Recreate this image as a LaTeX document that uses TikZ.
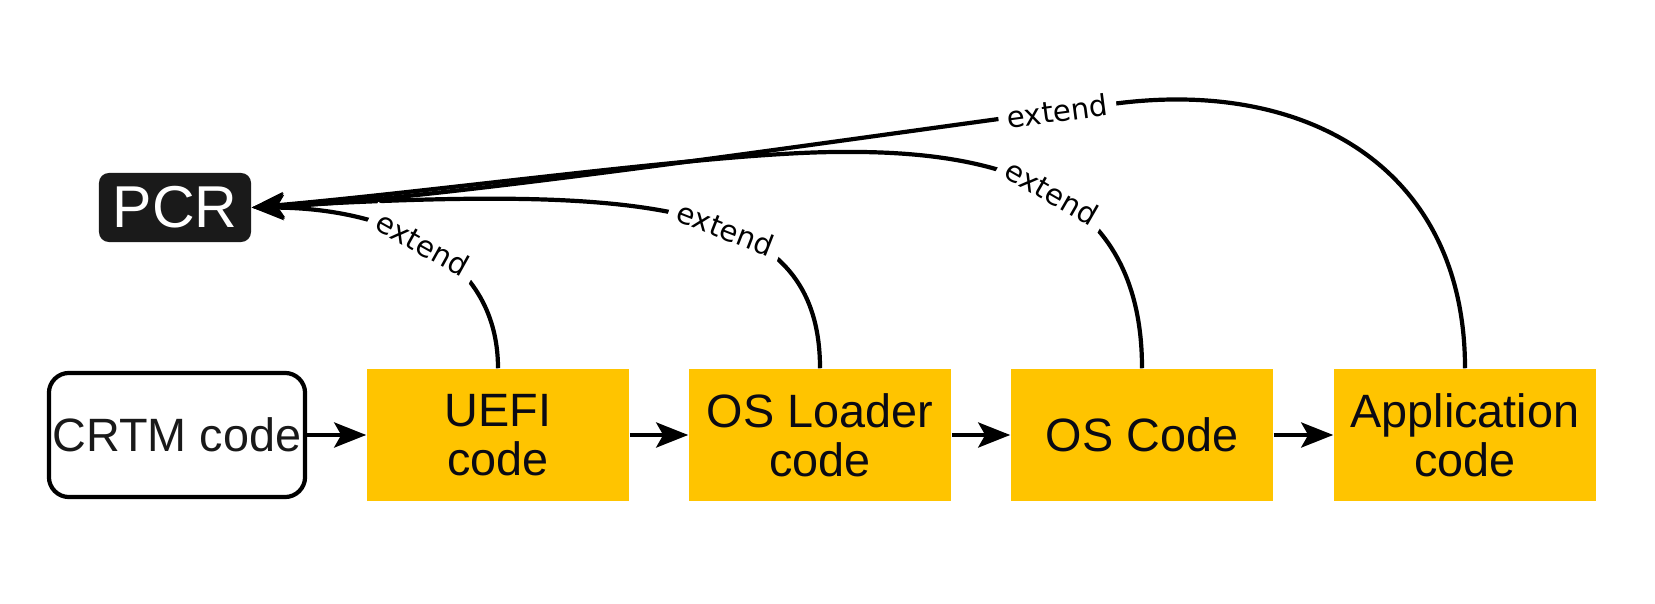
\documentclass[tikz,border=0pt]{standalone}
\usepackage{fontspec}
\setmainfont{Liberation Sans}
\newfontfamily\lblfont{DejaVu Sans}
\usetikzlibrary{arrows.meta}
\definecolor{boxyellow}{HTML}{FFC400}
\definecolor{pcrblack}{HTML}{1A1A1A}
\definecolor{boxtext}{HTML}{0A0A14}
\begin{document}
\begin{tikzpicture}[x=0.01cm, y=-0.01cm,
  stage/.style={fill=boxyellow, text=boxtext, minimum width=2.62cm, minimum height=1.32cm,
    align=center, inner sep=0pt, font=\fontsize{13.3}{13.9}\selectfont},
  startbox/.style={draw=black, line width=0.042cm, rounded corners=0.2cm, fill=white,
    minimum width=2.56cm, minimum height=1.24cm, inner sep=0pt, text=black!90,
    font=\fontsize{13.3}{13.9}\selectfont},
  pcrbox/.style={fill=pcrblack, rounded corners=0.1cm, text=white,
    minimum width=1.52cm, minimum height=0.69cm, inner sep=0pt,
    font=\fontsize{16.8}{18}\selectfont},
  conn/.style={line width=0.042cm, draw=black,
    -{Stealth[length=0.32cm, width=0.25cm, inset=0.07cm]}},
  extlbl/.style={font=\lblfont\fontsize{8.3}{10}\selectfont, fill=white,
    inner xsep=2.5pt, inner ysep=1pt, sloped}]
\useasboundingbox (0,0) rectangle (1655,604);

\node[pcrbox] (pcr) at (175,207.5) {PCR};
\node[startbox] (crtm) at (177,435) {CRTM code};
\node[stage] (uefi) at (498,435) {UEFI\\code};
\node[stage] (osl) at (820,435) {OS Loader\\code};
\node[stage] (osc) at (1142,435) {OS Code};
\node[stage] (app) at (1465,435) {Application\\code};

\draw[conn] (crtm.east) -- (uefi.west);
\draw[conn] (uefi.east) -- (osl.west);
\draw[conn] (osl.east) -- (osc.west);
\draw[conn] (osc.east) -- (app.west);

\draw[conn] (app.north) .. controls (1465,170) and (1310,80) .. (1120,103)
  .. controls (940,125) and (450,200) .. (pcr.east) node[extlbl, pos=0.1] {extend};
\draw[conn] (osc.north) .. controls (1142,200) and (1020,150) .. (840,152)
  node[extlbl, pos=0.52] {extend}
  .. controls (720,152) and (450,190) .. (pcr.east);
\draw[conn] (osl.north) .. controls (820,200) and (650,185) .. (pcr.east)
  node[extlbl, pos=0.42] {extend};
\draw[conn] (uefi.north) .. controls (498,250) and (380,208) .. (pcr.east)
  node[extlbl, pos=0.5] {extend};
\end{tikzpicture}
\end{document}
